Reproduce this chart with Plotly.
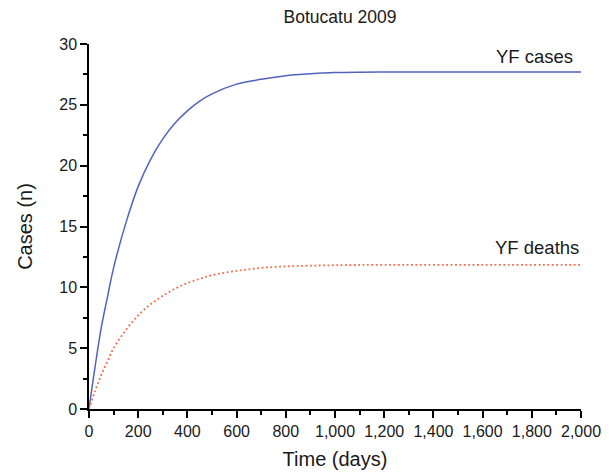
import plotly.graph_objects as go

days = [0, 25, 50, 75, 100, 150, 200, 250, 300, 350, 400, 450, 500, 600, 700,
        800, 900, 1000, 1200, 1500, 2000]
yf_cases = [0, 3.5, 6.7, 9.2, 11.6, 15.3, 18.3, 20.5, 22.2, 23.5, 24.5, 25.3,
            25.9, 26.7, 27.1, 27.4, 27.55, 27.65, 27.7, 27.7, 27.7]
yf_deaths = [0, 1.5, 2.8, 3.9, 5.0, 6.5, 7.7, 8.6, 9.3, 9.9, 10.35, 10.7,
             11.0, 11.35, 11.6, 11.72, 11.78, 11.82, 11.85, 11.85, 11.85]

x_ticks = [0, 200, 400, 600, 800, 1000, 1200, 1400, 1600, 1800, 2000]
x_tick_labels = ["0", "200", "400", "600", "800", "1,000", "1,200", "1,400",
                 "1,600", "1,800", "2,000"]
y_ticks = [0, 5, 10, 15, 20, 25, 30]

FONT = "Liberation Sans, Arial, sans-serif"
TXT = "#1a1a1a"

fig = go.Figure()
fig.add_trace(go.Scatter(x=days, y=yf_cases, mode="lines", line_shape="spline",
                         line=dict(color="#5363bd", width=1.5), name="YF cases"))
fig.add_trace(go.Scatter(x=days, y=yf_deaths, mode="lines", line_shape="spline",
                         line=dict(color="#f26a48", width=1.8, dash="1.8px,2.6px"),
                         name="YF deaths"))

fig.add_annotation(x=1976, y=29.0, text="YF cases", showarrow=False,
                   xanchor="right", yanchor="middle",
                   font=dict(family=FONT, size=18.5, color=TXT))
fig.add_annotation(x=2000, y=13.3, text="YF deaths", showarrow=False,
                   xanchor="right", yanchor="middle",
                   font=dict(family=FONT, size=18.5, color=TXT))

axis_common = dict(showgrid=False, zeroline=False, showline=True,
                   linecolor="black", linewidth=1.5, ticks="outside",
                   ticklen=7, tickwidth=1.5, tickcolor="black",
                   automargin=False,
                   tickfont=dict(family=FONT, size=16, color=TXT))

fig.update_xaxes(range=[0, 2000], tickvals=x_ticks, ticktext=x_tick_labels,
                 minor=dict(dtick=100, tick0=0, ticks="outside", ticklen=4,
                            tickwidth=1.5, tickcolor="black"),
                 title=dict(text="Time (days)", standoff=13,
                            font=dict(family=FONT, size=20, color=TXT)),
                 **axis_common)
fig.update_yaxes(range=[0, 30], tickvals=y_ticks,
                 minor=dict(dtick=2.5, tick0=0, ticks="outside", ticklen=4,
                            tickwidth=1.5, tickcolor="black"),
                 title=dict(text="Cases (n)", standoff=21,
                            font=dict(family=FONT, size=20, color=TXT)),
                 **axis_common)

# page body has an 8px default margin, so the figure is sized/offset to match
fig.update_layout(
    width=601, height=464,
    margin=dict(l=81, r=28, t=36, b=63),
    paper_bgcolor="white", plot_bgcolor="white",
    showlegend=False,
    title=dict(text="Botucatu 2009", x=332 / 601, xanchor="center",
               y=1 - 9 / 464, yanchor="middle", yref="container",
               font=dict(family=FONT, size=17.5, color=TXT)),
)

fig.write_html("out.html")
